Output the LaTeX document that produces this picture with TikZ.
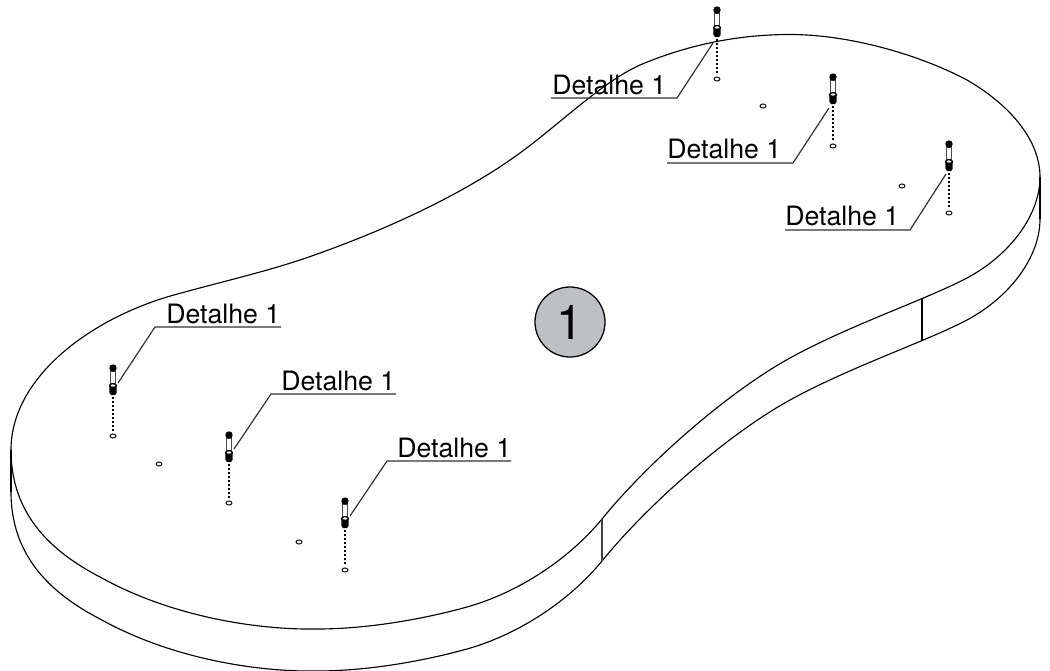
\documentclass[tikz,border=0pt]{standalone}
\usepackage{fontspec}
\setmainfont{TeX Gyre Heros}
\newcommand{\frontedge}{(1040,177)
  .. controls (1040,215) and (1010,255) .. (967,278)
  .. controls (925,300) and (850,325) .. (790,358)
  .. controls (730,391) and (650,460) .. (602,519)
  .. controls (570,558) and (520,592) .. (467,607)
  .. controls (420,620) and (365,629) .. (317,629)
  .. controls (255,630) and (170,616) .. (100,577)
  .. controls (52,552) and (11,515) .. (11,450)}
\begin{document}
\begin{tikzpicture}[x=0.75pt,y=-0.75pt,
  edge/.style={line width=0.85pt,black,line join=round},
  leader/.style={line width=0.9pt,black!80},
  lbl/.style={font=\fontsize{20pt}{20pt}\selectfont,inner sep=0pt,anchor=base west},
  pin/.pic={
    \draw[line width=0.8pt,dash pattern=on 1.4pt off 1.6pt] (0,29) -- (0,64);
    \draw[line width=0.85pt,black!70,fill=white] (-2.4,3) rectangle (2.4,16);
    \fill[black] (0,0) circle (3.7);
    \fill[black] (-3.8,17) -- (3.8,17) -- (3.5,25) -- (2,27) -- (-2,27) -- (-3.5,25) -- cycle;
    \draw[line width=0.9pt,fill=white] (0,17.5) ellipse (3.4 and 1.8);
  }]
\useasboundingbox (0,0) rectangle (1050,671);
% top surface
\draw[edge] (11,450)
  .. controls (11,380) and (85,322) .. (167,297)
  .. controls (212,284) and (258,274) .. (303,259)
  .. controls (370,236) and (450,202) .. (513,158)
  .. controls (555,128.7) and (600,83) .. (640,65)
  .. controls (685,46) and (735,34.5) .. (790,34.5)
  .. controls (850,34.5) and (920,55) .. (967,80)
  .. controls (1010,105) and (1040,140) .. (1040,177);
\draw[edge] \frontedge;
% lower edge
\begin{scope}[shift={(0,42)}]
  \draw[edge] \frontedge;
\end{scope}
\draw[edge] (11,450) -- (11,492);
\draw[edge] (1040,177) -- (1040,219);
\draw[edge,black!75] (602,519) -- (602,561);
\draw[edge] (922,299) -- (922,341);
% holes
\foreach \hx/\hy in {113/436,229/503,345/570,717/79,833/146,949/213,159/464,299/542,763/106,902/186}
  \draw[line width=0.8pt,black!90] (\hx,\hy) ellipse (2.9 and 2);
% pins
\path (113,368) pic {pin} (229,435) pic {pin} (345,501) pic {pin} (717,10) pic {pin} (833,77) pic {pin} (949,144) pic {pin};
% labels
\node[lbl] (d1) at (166,323) {Detalhe 1};
\node[lbl] (d2) at (281,390) {Detalhe 1};
\node[lbl] (d3) at (397,457) {Detalhe 1};
\node[lbl] (d4) at (552,94) {Detalhe 1};
\node[lbl] (d5) at (667,158) {Detalhe 1};
\node[lbl] (d6) at (785,225) {Detalhe 1};
\coordinate (a1) at (118,383); \coordinate (b1) at (155,327); \coordinate (c1) at (281,327);
\coordinate (a2) at (234,449); \coordinate (b2) at (271,394); \coordinate (c2) at (396,394);
\coordinate (a3) at (350,516); \coordinate (b3) at (387,461); \coordinate (c3) at (511,461);
\coordinate (a4) at (713,43); \coordinate (b4) at (677,98); \coordinate (c4) at (551,98);
\coordinate (a5) at (829,108); \coordinate (b5) at (793,163); \coordinate (c5) at (667,163);
\coordinate (a6) at (946,174); \coordinate (b6) at (910,230); \coordinate (c6) at (785,230);
\foreach \i in {1,...,6} \draw[leader] (a\i) -- (b\i) -- (c\i);
% balloon
\definecolor{balloon}{RGB}{190,192,195}
\node[circle,draw=black,line width=0.95pt,fill=balloon,minimum size=52.5pt,inner sep=0pt,font=\fontsize{36pt}{36pt}\selectfont] (n) at (570,322) {1};
\end{tikzpicture}
\end{document}
